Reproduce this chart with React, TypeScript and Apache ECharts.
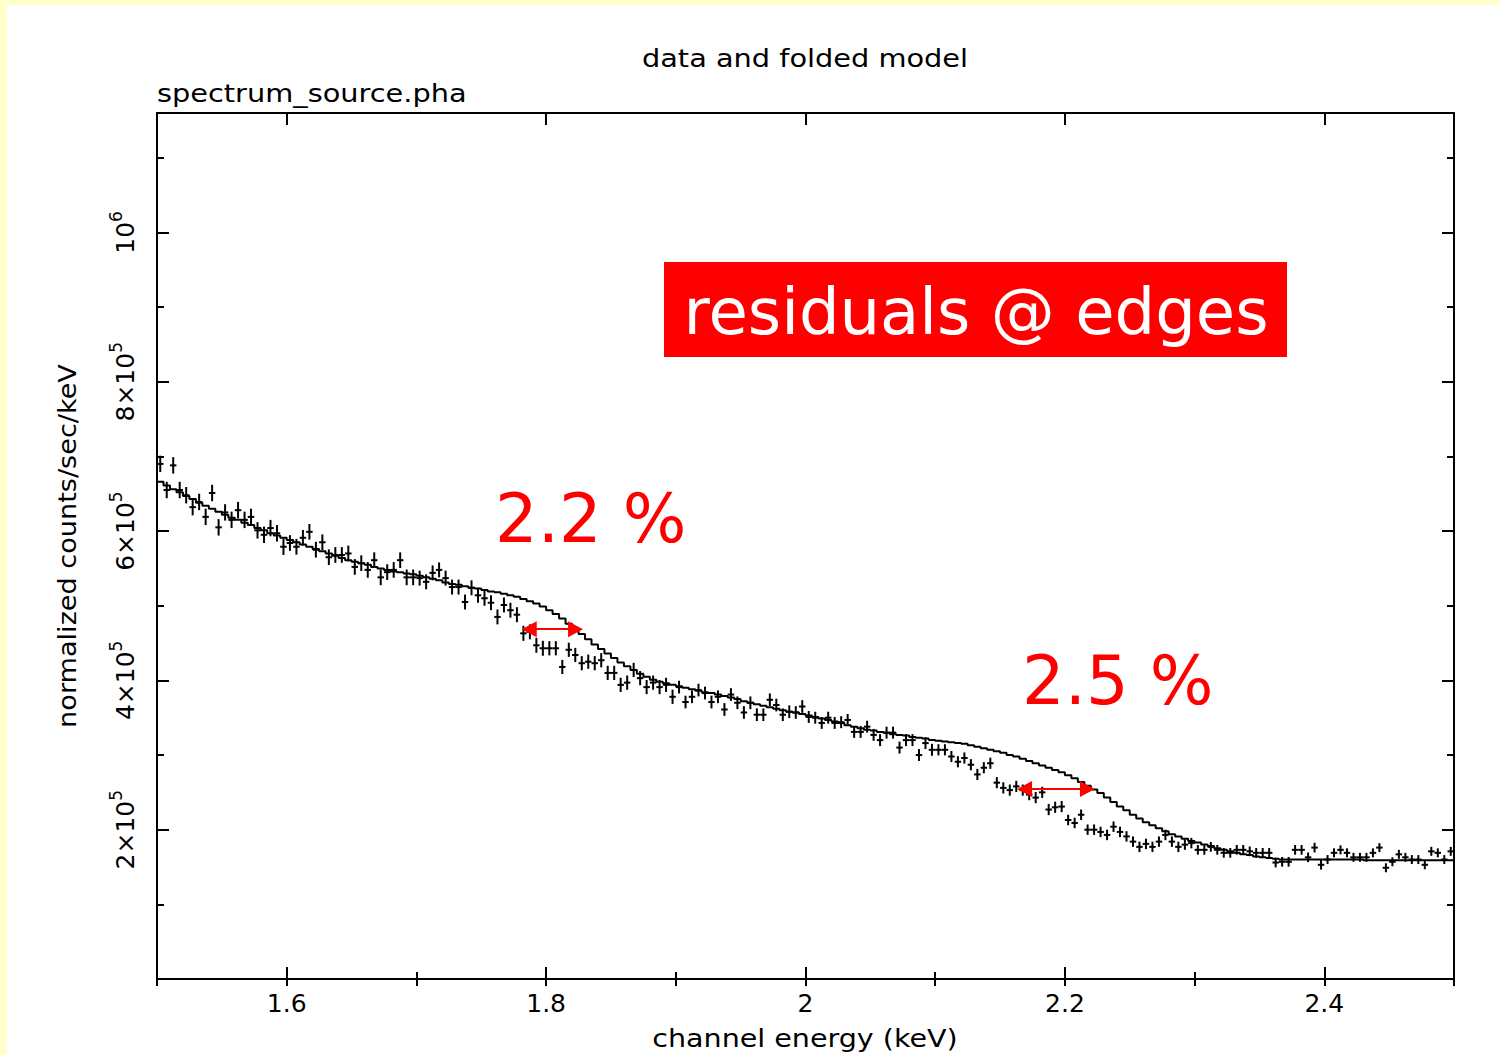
import React, { useEffect, useRef } from "react";
import * as echarts from "echarts";

const FONT = '"DejaVu Sans", "Liberation Sans", sans-serif';

// Energy grid of the spectrum (keV)
const E_MIN = 1.5;
const E_MAX = 2.5;
const BIN_WIDTH = 0.005;

// Folded model, one value per channel, in units of 1e3 counts/sec/keV
const modelCounts = [
  666, 661, 656, 652, 647, 643, 638, 634, 630, 626,
  622, 618, 615, 611, 608, 604, 601, 597, 594, 591,
  588, 585, 582, 579, 576, 573, 570, 567, 564, 561,
  559, 557, 555, 552, 550, 548, 546, 545, 543, 542,
  540, 538, 536, 534, 531, 529, 528, 526, 524, 523,
  521, 519, 518, 516, 514, 512, 509, 506, 503, 499,
  494, 489, 483, 476, 469, 462, 455, 448, 442, 436,
  430, 424, 419, 414, 409, 405, 401, 398, 396, 394,
  392, 390, 388, 386, 384, 383, 381, 379, 377, 375,
  372, 370, 368, 366, 364, 362, 360, 358, 357, 355,
  353, 351, 349, 347, 345, 343, 340, 338, 336, 334,
  333, 331, 330, 328, 327, 326, 324, 323, 322, 320,
  319, 318, 317, 316, 315, 313, 311, 309, 307, 305,
  303, 300, 298, 295, 292, 289, 286, 283, 280, 277,
  273, 269, 264, 259, 254, 249, 243, 237, 231, 226,
  220, 215, 210, 206, 202, 198, 194, 191, 188, 185,
  183, 180, 178, 175, 173, 171, 169, 167, 166, 164,
  163, 162, 161, 160, 160, 160, 160, 160, 160, 160,
  160, 160, 160, 160, 160, 160, 159, 159, 159, 159,
  159, 159, 159, 159, 159, 159, 159, 159, 159, 159,
];

// Measured spectrum, one value per channel, in units of 1e3 counts/sec/keV
const dataCounts = [
  690, 655, 688, 655, 648, 632, 639, 619, 651, 605,
  625, 615, 628, 615, 619, 601, 595, 604, 597, 579,
  584, 579, 591, 599, 575, 585, 565, 568, 568, 570,
  552, 557, 548, 561, 538, 545, 548, 561, 538, 538,
  537, 532, 544, 548, 537, 525, 525, 505, 524, 514,
  510, 504, 485, 501, 494, 488, 463, 465, 447, 443,
  443, 443, 418, 441, 434, 423, 425, 423, 427, 410,
  410, 394, 397, 414, 403, 391, 397, 391, 394, 378,
  391, 371, 378, 387, 383, 371, 378, 361, 381, 370,
  357, 370, 354, 354, 374, 367, 354, 358, 357, 365,
  351, 350, 343, 350, 343, 344, 347, 331, 331, 338,
  327, 320, 330, 330, 310, 320, 320, 300, 316, 307,
  307, 307, 298, 291, 296, 287, 274, 283, 289, 263,
  256, 253, 258, 253, 247, 243, 250, 227, 230, 231,
  213, 209, 220, 200, 200, 197, 193, 204, 197, 191,
  184, 177, 181, 177, 184, 193, 184, 177, 180, 182,
  173, 173, 177, 173, 169, 169, 173, 173, 171, 169,
  169, 169, 156, 157, 157, 173, 173, 163, 176, 153,
  160, 169, 173, 169, 163, 163, 163, 169, 176, 149,
  157, 167, 163, 160, 160, 153, 171, 169, 160, 171,
];

// 1-sigma error of the measured points, per 0.1 keV band (20 channels), 1e3 units
const errorPerBand = [11, 10.5, 10, 9.5, 8.5, 8, 7.5, 7, 6.5, 6];

// Axis ticks
const xLabelled = [1.6, 1.8, 2, 2.2, 2.4];
const xMinor = [1.5, 1.6, 1.7, 1.8, 1.9, 2.0, 2.1, 2.2, 2.3, 2.4, 2.5];
const Y_MAX = 1160000;
const yMajor = [0, 200000, 400000, 600000, 800000, 1000000];
const yLabelled = [200000, 400000, 600000, 800000, 1000000];
const yMinor = [100000, 200000, 300000, 400000, 500000, 600000, 700000, 800000, 900000, 1000000, 1100000];

// Shift of the instrumental edges: arrowhead centres (keV) and level (counts/sec/keV)
const edgeArrows = [
  { from: 1.787, to: 1.8227, level: 468500 },
  { from: 2.1689, to: 2.2174, level: 254400 },
];

export default function App() {
  const ref = useRef<HTMLDivElement>(null);

  useEffect(() => {
    if (!ref.current) return;
    const chart = echarts.init(ref.current, null, { renderer: "svg" });

    const modelSteps: number[][] = modelCounts.map((v, i) => [E_MIN + i * BIN_WIDTH, v * 1000]);
    modelSteps.push([E_MAX, modelCounts[modelCounts.length - 1] * 1000]);

    const points = dataCounts.map((v, i) => [
      E_MIN + (i + 0.5) * BIN_WIDTH,
      v * 1000,
      errorPerBand[Math.floor(i / 20)] * 1000,
    ]);

    const tickLine = { color: "#000", width: 2 };
    const hidden = { show: false };

    const xBase = {
      type: "value",
      min: E_MIN,
      max: E_MAX,
      splitLine: hidden,
      minorTick: hidden,
      axisLine: hidden,
      axisLabel: hidden,
    };
    const yBase = {
      type: "value",
      min: 0,
      max: Y_MAX,
      splitLine: hidden,
      minorTick: hidden,
      axisLine: hidden,
      axisLabel: hidden,
    };

    const frameLine = { show: true, onZero: false, lineStyle: { color: "#000", width: 2 } };

    chart.setOption({
      animation: false,
      backgroundColor: "#ffffff",
      grid: { left: 157, top: 113, width: 1297, height: 866, containLabel: false, outerBoundsMode: "none" },
      xAxis: [
        {
          ...xBase,
          position: "bottom",
          axisLine: frameLine,
          axisTick: { show: true, inside: true, length: 12, customValues: xLabelled, lineStyle: tickLine },
          axisLabel: {
            show: true,
            customValues: xLabelled,
            formatter: (v: number) => String(Math.round(v * 10) / 10),
            fontFamily: FONT,
            fontSize: 25,
            color: "#000",
            margin: 12,
          },
        },
        {
          ...xBase,
          position: "bottom",
          axisTick: { show: true, inside: true, length: 7, customValues: xMinor, lineStyle: tickLine },
        },
        {
          ...xBase,
          position: "top",
          axisLine: frameLine,
          axisTick: { show: true, inside: true, length: 12, customValues: xLabelled, lineStyle: tickLine },
        },
        {
          ...xBase,
          position: "top",
          axisTick: { show: true, inside: true, length: 7, customValues: xMinor, lineStyle: tickLine },
        },
      ],
      yAxis: [
        {
          ...yBase,
          position: "left",
          axisLine: frameLine,
          axisTick: { show: true, inside: true, length: 12, customValues: yMajor, lineStyle: tickLine },
          axisLabel: {
            show: true,
            customValues: yLabelled,
            rotate: 90,
            margin: 14,
            formatter: (v: number) =>
              v >= 1000000 ? "{m|10}{e|6}" : `{m|${Math.round(v / 100000)}\u00d710}{e|5}`,
            rich: {
              m: { fontFamily: FONT, fontSize: 25, color: "#000", lineHeight: 36, verticalAlign: "middle" },
              e: { fontFamily: FONT, fontSize: 17, color: "#000", verticalAlign: "top" },
            },
          },
        },
        {
          ...yBase,
          position: "left",
          axisTick: { show: true, inside: true, length: 7, customValues: yMinor, lineStyle: tickLine },
        },
        {
          ...yBase,
          position: "right",
          axisLine: frameLine,
          axisTick: { show: true, inside: true, length: 12, customValues: yMajor, lineStyle: tickLine },
        },
        {
          ...yBase,
          position: "right",
          axisTick: { show: true, inside: true, length: 7, customValues: yMinor, lineStyle: tickLine },
        },
      ],
      series: [
        {
          name: "folded model",
          type: "line",
          xAxisIndex: 0,
          yAxisIndex: 0,
          data: modelSteps,
          step: "end",
          showSymbol: false,
          symbol: "none",
          lineStyle: { color: "#000", width: 2 },
          silent: true,
          z: 3,
          markLine: {
            silent: true,
            symbol: ["triangle", "triangle"],
            symbolSize: [16, 15],
            label: { show: false },
            lineStyle: { color: "#ff0000", width: 2, type: "solid" },
            data: edgeArrows.map((a) => [
              { coord: [a.from, a.level] },
              { coord: [a.to, a.level] },
            ]),
          },
        },
        {
          name: "data",
          type: "custom",
          xAxisIndex: 0,
          yAxisIndex: 0,
          data: points,
          encode: { x: 0, y: 1 },
          clip: true,
          silent: true,
          z: 2,
          renderItem: (_params: any, api: any) => {
            const e = api.value(0);
            const v = api.value(1);
            const err = api.value(2);
            const l = api.coord([e - BIN_WIDTH / 2, v]);
            const r = api.coord([e + BIN_WIDTH / 2, v]);
            const t = api.coord([e, v + err]);
            const b = api.coord([e, v - err]);
            const style = { stroke: "#000", lineWidth: 2 };
            return {
              type: "group",
              children: [
                { type: "line", shape: { x1: l[0], y1: l[1], x2: r[0], y2: r[1] }, style },
                { type: "line", shape: { x1: t[0], y1: t[1], x2: b[0], y2: b[1] }, style },
              ],
            };
          },
        },
      ],
      graphic: [
        // pale yellow page border
        { type: "rect", shape: { x: 0, y: 0, width: 7, height: 1055 }, style: { fill: "#ffffcc" }, silent: true },
        { type: "rect", shape: { x: 0, y: 0, width: 1500, height: 5 }, style: { fill: "#ffffcc" }, silent: true },
        {
          type: "text",
          x: 805,
          y: 58,
          scaleX: 1.2,
          style: { text: "data and folded model", fontFamily: FONT, fontSize: 24, fill: "#000", textAlign: "center", textVerticalAlign: "middle" },
          silent: true,
        },
        {
          type: "text",
          x: 157,
          y: 93,
          scaleX: 1.2,
          style: { text: "spectrum_source.pha", fontFamily: FONT, fontSize: 24, fill: "#000", textAlign: "left", textVerticalAlign: "middle" },
          silent: true,
        },
        {
          type: "text",
          x: 805,
          y: 1039,
          scaleX: 1.19,
          style: { text: "channel energy (keV)", fontFamily: FONT, fontSize: 24, fill: "#000", textAlign: "center", textVerticalAlign: "middle" },
          silent: true,
        },
        {
          type: "text",
          x: 68,
          y: 546,
          rotation: Math.PI / 2,
          scaleX: 1.13,
          style: { text: "normalized counts/sec/keV", fontFamily: FONT, fontSize: 24, fill: "#000", textAlign: "center", textVerticalAlign: "middle" },
          silent: true,
        },
        // annotation box and percentages
        { type: "rect", shape: { x: 664, y: 262, width: 623, height: 95 }, style: { fill: "#ff0000" }, silent: true },
        {
          type: "text",
          x: 976,
          y: 312,
          style: { text: "residuals @ edges", fontFamily: FONT, fontSize: 64, fill: "#ffffff", textAlign: "center", textVerticalAlign: "middle" },
          silent: true,
        },
        {
          type: "text",
          x: 495,
          y: 519,
          style: { text: "2.2 %", fontFamily: FONT, fontSize: 67, fill: "#ff0000", textAlign: "left", textVerticalAlign: "middle" },
          silent: true,
        },
        {
          type: "text",
          x: 1022,
          y: 681,
          style: { text: "2.5 %", fontFamily: FONT, fontSize: 67, fill: "#ff0000", textAlign: "left", textVerticalAlign: "middle" },
          silent: true,
        },
      ],
    });

    return () => chart.dispose();
  }, []);

  return <div ref={ref} style={{ position: "fixed", left: 0, top: 0, width: 1500, height: 1055 }} />;
}
